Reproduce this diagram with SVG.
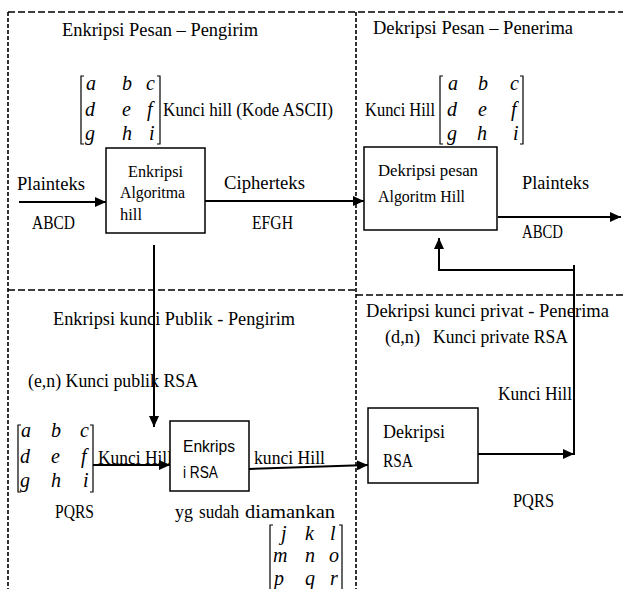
<svg xmlns="http://www.w3.org/2000/svg" width="623" height="589" viewBox="0 0 623 589">
<style>
.t{font-family:"Liberation Serif","Times New Roman",serif;font-size:19px;fill:#000}
.s{font-family:"Liberation Serif","Times New Roman",serif;font-size:17px;fill:#000}
.m{font-family:"Liberation Serif","Times New Roman",serif;font-style:italic;font-size:20px;fill:#000}
.sans{font-family:"Liberation Sans",Arial,sans-serif;font-size:16px;fill:#000}
.frame{fill:none;stroke:#000;stroke-width:1.6;stroke-dasharray:7 3}
.framev{fill:none;stroke:#000;stroke-width:1.6;stroke-dasharray:4 2}
.box{fill:#fff;stroke:#000;stroke-width:1.5}
.br{fill:none;stroke:#000;stroke-width:1.2}
.c{fill:none;stroke:#000;stroke-width:2}
.ca{fill:none;stroke:#000;stroke-width:2;marker-end:url(#ah)}
</style>
<defs>
<marker id="ah" markerUnits="userSpaceOnUse" markerWidth="12" markerHeight="10" refX="11" refY="5" orient="auto">
<path d="M0,0 L11,5 L0,10 z" fill="#000"/>
</marker>
</defs>
<rect width="623" height="589" fill="#fff"/>
<g id="frame">
<line class="frame" x1="8" y1="12" x2="623" y2="12"/>
<line class="framev" x1="8" y1="12" x2="8" y2="589"/>
<line class="framev" x1="356" y1="12" x2="356" y2="589"/>
<line class="frame" x1="8" y1="290" x2="356" y2="290"/>
<line class="frame" x1="356" y1="295" x2="623" y2="295"/>
</g>
<g id="labels">
<text class="t" x="62" y="36" textLength="196" lengthAdjust="spacingAndGlyphs">Enkripsi Pesan – Pengirim</text>
<text class="t" x="373" y="34" textLength="200" lengthAdjust="spacingAndGlyphs">Dekripsi Pesan – Penerima</text>
<text class="t" x="163" y="116" textLength="170" lengthAdjust="spacingAndGlyphs">Kunci hill (Kode ASCII)</text>
<text class="t" x="365" y="116" textLength="70" lengthAdjust="spacingAndGlyphs">Kunci Hill</text>
<text class="t" x="17" y="190" textLength="68" lengthAdjust="spacingAndGlyphs">Plainteks</text>
<text class="t" x="32" y="229" textLength="43" lengthAdjust="spacingAndGlyphs">ABCD</text>
<text class="t" x="224" y="189" textLength="81" lengthAdjust="spacingAndGlyphs">Cipherteks</text>
<text class="t" x="252" y="229" textLength="41" lengthAdjust="spacingAndGlyphs">EFGH</text>
<text class="t" x="522" y="189" textLength="67" lengthAdjust="spacingAndGlyphs">Plainteks</text>
<text class="t" x="522" y="238" textLength="41" lengthAdjust="spacingAndGlyphs">ABCD</text>
<text class="t" x="53" y="325" textLength="242" lengthAdjust="spacingAndGlyphs">Enkripsi kunci Publik - Pengirim</text>
<text class="t" x="28" y="387" textLength="170" lengthAdjust="spacingAndGlyphs">(e,n) Kunci publik RSA</text>
<text class="t" x="366" y="317" textLength="243" lengthAdjust="spacingAndGlyphs">Dekripsi kunci privat - Penerima</text>
<text class="t" x="385" y="343" textLength="35" lengthAdjust="spacingAndGlyphs">(d,n)</text>
<text class="t" x="433" y="343" textLength="135" lengthAdjust="spacingAndGlyphs">Kunci private RSA</text>
<text class="t" x="498" y="400" textLength="74" lengthAdjust="spacingAndGlyphs">Kunci Hill</text>
<text class="t" x="98" y="464" textLength="74" lengthAdjust="spacingAndGlyphs">Kunci Hill</text>
<text class="t" x="254" y="464" textLength="71" lengthAdjust="spacingAndGlyphs">kunci Hill</text>
<text class="t" x="55" y="518" textLength="39" lengthAdjust="spacingAndGlyphs">PQRS</text>
<text class="t" x="175" y="518" textLength="18" lengthAdjust="spacingAndGlyphs">yg</text>
<text class="t" x="199" y="518" textLength="40" lengthAdjust="spacingAndGlyphs">sudah</text>
<text class="t" x="245" y="518" textLength="90" lengthAdjust="spacingAndGlyphs">diamankan</text>
<text class="t" x="513" y="507" textLength="41" lengthAdjust="spacingAndGlyphs">PQRS</text>
</g>
<g id="matrix-hill-1">
<path class="br" d="M84,76 H81 V144 H84 M157,76 H160 V144 H157"/>
<text class="m" x="86" y="90">a</text><text class="m" x="122" y="90">b</text><text class="m" x="146" y="90">c</text>
<text class="m" x="85" y="116">d</text><text class="m" x="122" y="116">e</text><text class="m" x="147" y="116">f</text>
<text class="m" x="85" y="140">g</text><text class="m" x="122" y="140">h</text><text class="m" x="149" y="140">i</text>
</g>
<g id="matrix-hill-2">
<path class="br" d="M443,76 H440 V144 H443 M520,76 H523 V144 H520"/>
<text class="m" x="448" y="90">a</text><text class="m" x="478" y="90">b</text><text class="m" x="510" y="90">c</text>
<text class="m" x="447" y="116">d</text><text class="m" x="478" y="116">e</text><text class="m" x="511" y="116">f</text>
<text class="m" x="447" y="140">g</text><text class="m" x="477" y="140">h</text><text class="m" x="513" y="140">i</text>
</g>
<g id="matrix-hill-3">
<path class="br" d="M21,425 H18 V492 H21 M90,425 H93 V492 H90"/>
<text class="m" x="21" y="437">a</text><text class="m" x="51" y="437">b</text><text class="m" x="80" y="437">c</text>
<text class="m" x="20" y="463">d</text><text class="m" x="51" y="463">e</text><text class="m" x="81" y="463">f</text>
<text class="m" x="20" y="487">g</text><text class="m" x="51" y="487">h</text><text class="m" x="83" y="487">i</text>
</g>
<g id="matrix-secured">
<path class="br" d="M273,525 H270 V595 M339,525 H342 V595"/>
<text class="m" x="281" y="540">j</text><text class="m" x="305" y="540">k</text><text class="m" x="330" y="540">l</text>
<text class="m" x="273" y="562">m</text><text class="m" x="305" y="562">n</text><text class="m" x="329" y="562">o</text>
<text class="m" x="274" y="585">p</text><text class="m" x="305" y="585">q</text><text class="m" x="330" y="585">r</text>
</g>
<g id="connectors">
<line class="ca" x1="19" y1="202" x2="106" y2="202"/>
<line class="ca" x1="205" y1="201" x2="364" y2="201"/>
<line class="ca" x1="498" y1="217" x2="621" y2="217"/>
<line class="ca" x1="154" y1="245" x2="154" y2="427"/>
<line class="ca" x1="93" y1="465" x2="170" y2="465"/>
<line class="ca" x1="249" y1="469" x2="368" y2="465"/>
<line class="ca" x1="478" y1="454" x2="574" y2="454"/>
<line class="c" x1="574" y1="265" x2="574" y2="455"/>
<polyline class="ca" points="574,270 439,270 439,238"/>
</g>
<g id="enkripsi-hill">
<rect class="box" x="106" y="148" width="99" height="85"/>
<text class="s" x="128" y="177" textLength="55" lengthAdjust="spacingAndGlyphs">Enkripsi</text>
<text class="s" x="120" y="198" textLength="65" lengthAdjust="spacingAndGlyphs">Algoritma</text>
<text class="s" x="120" y="220" textLength="22" lengthAdjust="spacingAndGlyphs">hill</text>
</g>
<g id="dekripsi-hill">
<rect class="box" x="364" y="147" width="133" height="83"/>
<text class="s" x="378" y="176" textLength="100" lengthAdjust="spacingAndGlyphs">Dekripsi pesan</text>
<text class="s" x="378" y="202" textLength="87" lengthAdjust="spacingAndGlyphs">Algoritm Hill</text>
</g>
<g id="enkripsi-rsa">
<rect class="box" x="170" y="421" width="79" height="70"/>
<text class="sans" x="183" y="452" textLength="52" lengthAdjust="spacingAndGlyphs">Enkrips</text>
<text class="sans" x="183" y="478" textLength="35" lengthAdjust="spacingAndGlyphs">i RSA</text>
</g>
<g id="dekripsi-rsa">
<rect class="box" x="368" y="408" width="110" height="75"/>
<text class="t" x="383" y="438" textLength="62" lengthAdjust="spacingAndGlyphs">Dekripsi</text>
<text class="t" x="383" y="467" textLength="30" lengthAdjust="spacingAndGlyphs">RSA</text>
</g>
</svg>
